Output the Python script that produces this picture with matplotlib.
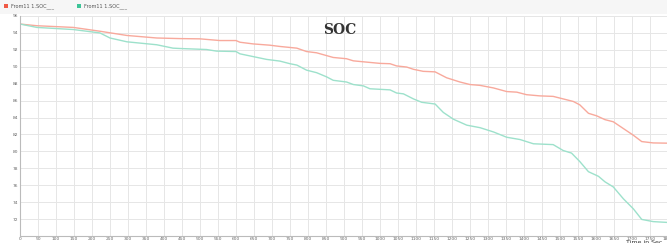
import numpy as np
import matplotlib.pyplot as plt
from matplotlib.patches import Rectangle

# du lieu doc tu hinh (thoi gian s, SOC %)
t_red = [0, 47, 148, 222, 297, 380, 444, 500, 555, 600, 611, 648, 694, 722, 769, 796,
         824, 870, 907, 926, 963, 1000, 1028, 1046, 1074, 1093, 1120, 1153, 1185, 1222,
         1250, 1278, 1315, 1352, 1380, 1407, 1444, 1481, 1509, 1537, 1555, 1579, 1602,
         1625, 1648, 1676, 1704, 1727, 1759, 1800]
soc_red = [95.05, 94.85, 94.65, 94.2, 93.7, 93.4, 93.33, 93.3, 93.1, 93.1, 92.9, 92.7,
           92.55, 92.4, 92.2, 91.8, 91.65, 91.1, 90.95, 90.7, 90.55, 90.4, 90.36, 90.1,
           89.97, 89.7, 89.46, 89.4, 88.7, 88.2, 87.9, 87.8, 87.5, 87.07, 87.0, 86.7,
           86.56, 86.5, 86.2, 85.9, 85.5, 84.5, 84.2, 83.75, 83.5, 82.7, 81.9, 81.16,
           81.0, 80.97]

t_green = [0, 47, 148, 222, 250, 297, 380, 425, 444, 518, 546, 600, 611, 648, 685, 722,
           750, 769, 796, 824, 852, 870, 907, 926, 954, 972, 1028, 1046, 1065, 1093, 1116,
           1153, 1176, 1204, 1241, 1278, 1315, 1352, 1389, 1426, 1481, 1509, 1532, 1555,
           1579, 1607, 1625, 1648, 1676, 1704, 1727, 1759, 1800]
soc_green = [95.05, 94.65, 94.4, 94.0, 93.4, 92.95, 92.6, 92.2, 92.16, 92.04, 91.85, 91.8,
             91.53, 91.2, 90.87, 90.67, 90.36, 90.2, 89.6, 89.3, 88.8, 88.4, 88.2, 87.9,
             87.74, 87.4, 87.27, 86.9, 86.8, 86.2, 85.8, 85.6, 84.6, 83.8, 83.1, 82.8,
             82.3, 81.67, 81.4, 80.9, 80.8, 80.1, 79.8, 78.8, 77.6, 77.05, 76.4, 75.8,
             74.4, 73.2, 71.96, 71.7, 71.6]

labels = ["From11 1.SOC___", "From11 1.SOC___"]
line_colors = ["#f8a99c", "#9de1cb"]
marker_colors = ["#f05a46", "#3cc497"]

fig = plt.figure(figsize=(6.67, 2.43), dpi=100)
fig.patch.set_facecolor("white")
# dai xam nhat phia tren
fig.patches.append(Rectangle((0, 1 - 14 / 243), 1, 14 / 243, transform=fig.transFigure,
                             facecolor="#f6f6f6", edgecolor="none", zorder=0))

ax = fig.add_axes([20 / 667, 7 / 243, 648 / 667, 220 / 243])
ax.plot(t_red, soc_red, color=line_colors[0], lw=1.0)
ax.plot(t_green, soc_green, color=line_colors[1], lw=1.0)

ax.set_xlim(0, 1800)
ax.set_ylim(70, 96)
ax.set_xticks(np.arange(0, 1801, 50))
ax.set_yticks(np.arange(72, 97, 2))
ax.tick_params(labelsize=3.2, colors="#666666", length=0, pad=1)
ax.grid(True, color="#e6e6e6", lw=0.7)
for s in ["top", "right"]:
    ax.spines[s].set_visible(False)
for s in ["left", "bottom"]:
    ax.spines[s].set_color("#bbbbbb")
    ax.spines[s].set_linewidth(0.8)

# chu thich tu ve o goc tren
for i, (lab, mc) in enumerate(zip(labels, marker_colors)):
    x0 = 4 / 667 + i * 73 / 667
    fig.patches.append(Rectangle((x0, 1 - 8 / 243), 4 / 667, 4 / 243,
                                 transform=fig.transFigure, facecolor=mc, edgecolor="none"))
    fig.text(x0 + 7 / 667, 1 - 6 / 243, lab, fontsize=3.6, color="#555555", va="center")

fig.text(340 / 667, 1 - 30 / 243, "SOC", fontsize=10, family="DejaVu Serif",
         weight="bold", color="#333333", ha="center", va="center")
fig.text(626 / 667, 1 - 242.5 / 243, "Time in Sec", fontsize=4.5, color="#333333",
         va="center")

fig.savefig("out.png", dpi=100)
